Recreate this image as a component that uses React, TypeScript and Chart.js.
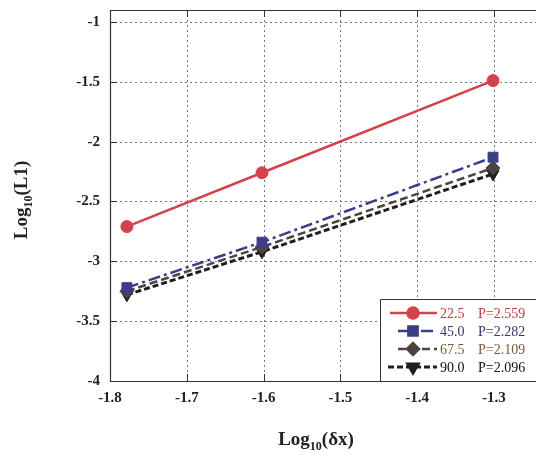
import React, { useEffect, useRef } from "react";
import { Chart, registerables } from "chart.js";
import { drawPoint } from "chart.js/helpers";

Chart.register(...registerables);

const xValues = [-1.778, -1.602, -1.301];
const series22 = [-2.71, -2.26, -1.49];
const series45 = [-3.22, -2.84, -2.13];
const series67 = [-3.25, -2.88, -2.22];
const series90 = [-3.28, -2.92, -2.27];
const seriesNames = ["22.5", "45.0", "67.5", "90.0"];
const seriesP = ["P=2.559", "P=2.282", "P=2.109", "P=2.096"];
const xTicks = [-1.8, -1.7, -1.6, -1.5, -1.4, -1.3];
const yTicks = [-4, -3.5, -3, -2.5, -2, -1.5, -1];

const SERIF = "'Liberation Serif', 'DejaVu Serif', serif";

const styles = [
  { color: "#d4434b", text: "#c23a40", dash: [] as number[], width: 2.5, pointStyle: "circle", radius: 6, legendRadius: 5.5, rotation: 0 },
  { color: "#3b3e86", text: "#34376e", dash: [12, 4, 3, 4], width: 2.5, pointStyle: "rect", radius: 7, legendRadius: 6.5, rotation: 0 },
  { color: "#4e4442", text: "#7a5a3c", dash: [8, 4], width: 2.5, pointStyle: "rectRot", radius: 7, legendRadius: 6, rotation: 0 },
  { color: "#1e1e1e", text: "#111111", dash: [6, 3], width: 3, pointStyle: "triangle", radius: 7, legendRadius: 6, rotation: 180 },
];

function drawTitle(ctx: CanvasRenderingContext2D, x: number, y: number, main: string, sub: string, rest: string, rotate: boolean) {
  ctx.save();
  ctx.translate(x, y);
  if (rotate) ctx.rotate(-Math.PI / 2);
  const big = `bold 19px ${SERIF}`;
  const small = `bold 12px ${SERIF}`;
  ctx.font = big;
  const w1 = ctx.measureText(main).width;
  const w3 = ctx.measureText(rest).width;
  ctx.font = small;
  const w2 = ctx.measureText(sub).width;
  const total = w1 + w2 + w3;
  let cx = -total / 2;
  ctx.fillStyle = "#222";
  ctx.textBaseline = "middle";
  ctx.textAlign = "left";
  ctx.font = big;
  ctx.fillText(main, cx, 0);
  cx += w1;
  ctx.font = small;
  ctx.fillText(sub, cx, 7);
  cx += w2;
  ctx.font = big;
  ctx.fillText(rest, cx, 0);
  ctx.restore();
}

const customPlugin = {
  id: "custom",
  beforeDatasetsDraw(chart: any) {
    const ctx: CanvasRenderingContext2D = chart.ctx;
    const { left, right, top, bottom } = chart.chartArea;
    const xs = chart.scales.x;
    const ys = chart.scales.y;
    ctx.save();
    ctx.strokeStyle = "#777";
    ctx.lineWidth = 1;
    ctx.setLineDash([2, 3]);
    for (const t of xTicks) {
      const px = Math.round(xs.getPixelForValue(t)) + 0.5;
      if (px <= left + 1) continue;
      ctx.beginPath();
      ctx.moveTo(px, top);
      ctx.lineTo(px, bottom);
      ctx.stroke();
    }
    for (const t of yTicks) {
      const py = Math.round(ys.getPixelForValue(t)) + 0.5;
      if (py >= bottom - 1) continue;
      ctx.beginPath();
      ctx.moveTo(left, py);
      ctx.lineTo(right, py);
      ctx.stroke();
    }
    ctx.restore();
  },
  afterDraw(chart: any) {
    const ctx: CanvasRenderingContext2D = chart.ctx;
    const { left, right, top, bottom } = chart.chartArea;
    const xs = chart.scales.x;
    const ys = chart.scales.y;
    ctx.save();
    ctx.strokeStyle = "#333";
    ctx.lineWidth = 1.2;
    ctx.setLineDash([]);
    ctx.beginPath();
    ctx.moveTo(right + 2, top + 0.5);
    ctx.lineTo(left + 0.5, top + 0.5);
    ctx.lineTo(left + 0.5, bottom + 0.5);
    ctx.lineTo(right + 2, bottom + 0.5);
    ctx.stroke();
    ctx.lineWidth = 1;
    for (const t of xTicks) {
      const px = Math.round(xs.getPixelForValue(t)) + 0.5;
      ctx.beginPath();
      ctx.moveTo(px, bottom);
      ctx.lineTo(px, bottom - 7);
      ctx.moveTo(px, top);
      ctx.lineTo(px, top + 7);
      ctx.stroke();
    }
    for (const t of yTicks) {
      const py = Math.round(ys.getPixelForValue(t)) + 0.5;
      ctx.beginPath();
      ctx.moveTo(left, py);
      ctx.lineTo(left + 7, py);
      ctx.stroke();
    }
    // legend
    const bx = 380, by = 299;
    ctx.fillStyle = "#fff";
    ctx.fillRect(bx, by, right - bx + 2, bottom - by);
    ctx.strokeStyle = "#333";
    ctx.lineWidth = 1;
    ctx.beginPath();
    ctx.moveTo(right + 2, by + 0.5);
    ctx.lineTo(bx + 0.5, by + 0.5);
    ctx.lineTo(bx + 0.5, bottom);
    ctx.stroke();
    const rowY = [313, 331, 349, 367];
    chart.data.datasets.forEach((ds: any, i: number) => {
      const st = styles[i];
      const y = rowY[i];
      ctx.save();
      ctx.strokeStyle = st.color;
      ctx.lineWidth = st.width;
      ctx.setLineDash(st.dash);
      ctx.beginPath();
      ctx.moveTo(i === 3 ? 388 : (i === 0 ? 390 : 398), y);
      ctx.lineTo(437, y);
      ctx.stroke();
      ctx.setLineDash([]);
      ctx.fillStyle = st.color;
      ctx.strokeStyle = st.color;
      drawPoint(ctx, { pointStyle: st.pointStyle as any, radius: st.legendRadius, rotation: st.rotation, borderWidth: 1 } as any, 413, y);
      ctx.restore();
      ctx.fillStyle = st.text;
      ctx.font = `14px ${SERIF}`;
      ctx.textBaseline = "middle";
      ctx.textAlign = "left";
      ctx.fillText(seriesNames[i], 440, y + 1);
      ctx.fillText(seriesP[i], 478, y + 1);
    });
    ctx.restore();
    drawTitle(ctx, 316, 440, "Log", "10", "(δx)", false);
    drawTitle(ctx, 22, 200, "Log", "10", "(L1)", true);
  },
};

export default function App() {
  const ref = useRef<HTMLCanvasElement>(null);
  useEffect(() => {
    if (!ref.current) return;
    const mk = (vals: number[]) => xValues.map((x, i) => ({ x, y: vals[i] }));
    const all = [series22, series45, series67, series90];
    const chart = new Chart(ref.current, {
      type: "line",
      data: {
        datasets: all.map((vals, i) => ({
          label: seriesNames[i],
          data: mk(vals),
          borderColor: styles[i].color,
          backgroundColor: styles[i].color,
          borderWidth: styles[i].width,
          borderDash: styles[i].dash,
          pointStyle: styles[i].pointStyle as any,
          pointRadius: styles[i].radius,
          pointRotation: styles[i].rotation,
          pointBorderWidth: 1,
          pointBackgroundColor: styles[i].color,
          pointBorderColor: styles[i].color,
          tension: 0,
          fill: false,
        })),
      },
      options: {
        animation: false,
        responsive: false,
        devicePixelRatio: 1,
        layout: { autoPadding: false, padding: { top: 10, right: 0, left: 0, bottom: 0 } },
        plugins: { legend: { display: false }, tooltip: { enabled: false } },
        scales: {
          x: {
            type: "linear",
            min: -1.8,
            max: -1.245,
            grid: { display: false, drawTicks: false },
            border: { display: false },
            afterBuildTicks: (s: any) => { s.ticks = xTicks.map((v) => ({ value: v })); },
            afterFit: (s: any) => { s.height = 75; s.paddingLeft = 0; s.paddingRight = 0; },
            ticks: {
              padding: 8,
              color: "#222",
              font: { family: SERIF, size: 15, weight: "bold" },
              maxRotation: 0,
              autoSkip: false,
              callback: (v: any) => String(Number(v).toFixed(1)),
            },
          },
          y: {
            type: "linear",
            min: -4,
            max: -0.9,
            grid: { display: false, drawTicks: false },
            border: { display: false },
            afterBuildTicks: (s: any) => { s.ticks = yTicks.map((v) => ({ value: v })); },
            afterFit: (s: any) => { s.width = 110; s.paddingTop = 0; s.paddingBottom = 0; },
            ticks: {
              padding: 10,
              color: "#222",
              font: { family: SERIF, size: 15, weight: "bold" },
              autoSkip: false,
              callback: (v: any) => String(Number(v)),
            },
          },
        },
      },
      plugins: [customPlugin],
    });
    return () => chart.destroy();
  }, []);
  return (
    <div style={{ position: "absolute", left: 0, top: 0, width: 536, height: 456, background: "#fff" }}>
      <canvas ref={ref} width={536} height={456} />
    </div>
  );
}
